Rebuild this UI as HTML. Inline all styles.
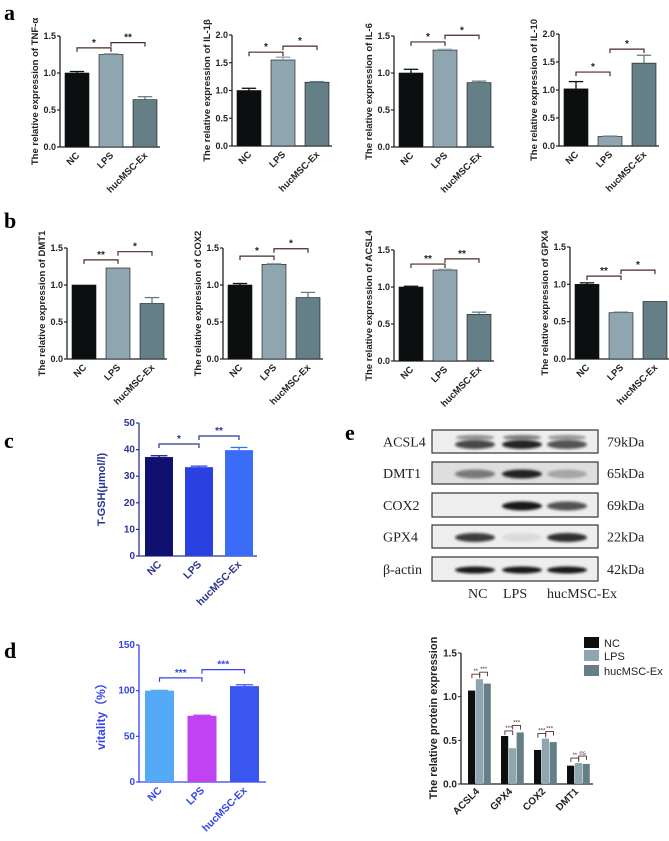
<!DOCTYPE html>
<html><head><meta charset="utf-8">
<style>
html,body{margin:0;padding:0;background:#fff;}
svg{display:block;font-family:"Liberation Sans",Arial,sans-serif;}
.pl{font-family:"Liberation Serif",serif;font-weight:bold;font-size:22px;}
.wb{font-family:"Liberation Serif",serif;font-size:14px;fill:#222;}
</style></head>
<body>
<svg id="fig" width="669" height="841" viewBox="0 0 669 841">
<defs><filter id="blur" x="-20%" y="-50%" width="140%" height="200%"><feGaussianBlur stdDeviation="1.4"/></filter></defs>
<text class="pl" x="4" y="20">a</text>
<text class="pl" x="4" y="228">b</text>
<text class="pl" x="4" y="448">c</text>
<text class="pl" x="4" y="658">d</text>
<text class="pl" x="345" y="440">e</text>
</svg>
<script>
const groups = ["NC","LPS","hucMSC-Ex"];
const tnfVals = [1.0,1.25,0.64], tnfErr = [0.02,0.01,0.04];
const il1Vals = [1.0,1.55,1.15], il1Err = [0.04,0.05,0.01];
const il6Vals = [1.0,1.31,0.87], il6Err = [0.05,0.01,0.02];
const il10Vals = [1.02,0.17,1.48], il10Err = [0.13,0.01,0.14];
const dmtVals = [1.0,1.23,0.75], dmtErr = [0.0,0.0,0.08];
const coxVals = [1.0,1.28,0.83], coxErr = [0.02,0.01,0.07];
const acslVals = [1.0,1.23,0.63], acslErr = [0.01,0.01,0.03];
const gpxVals = [1.0,0.62,0.77], gpxErr = [0.02,0.01,0.0];
const ticks15 = ["0.0","0.5","1.0","1.5"];
const ticks20 = ["0.0","0.5","1.0","1.5","2.0"];
const gshVals = [37.2,33.4,39.8], gshErr = [0.5,0.4,1.0];
const gshTicks = ["0","10","20","30","40","50"];
const vitVals = [100,72.5,105], vitErr = [0.3,0.5,1.5];
const vitTicks = ["0","50","100","150"];
const protCats = ["ACSL4","GPX4","COX2","DMT1"];
const protNC = [1.07,0.55,0.39,0.21];
const protLPS = [1.20,0.41,0.52,0.24];
const protHuc = [1.15,0.59,0.48,0.23];
const protTicks = ["0.0","0.5","1.0","1.5"];
const sigTNF=[["*",1.34],["**",1.41]], sigIL1=[["*",1.69],["*",1.80]], sigIL6=[["*",1.42],["*",1.51]], sigIL10=[["*",1.32],["*",1.73]];
const sigDMT=[["**",1.34],["*",1.45]], sigCOX=[["*",1.39],["*",1.49]], sigACSL=[["**",1.31],["**",1.38]], sigGPX=[["**",1.11],["*",1.19]];
const sigGSH=[["*",42.1],["**",45.1]], sigVit=[["***",114],["***",123]];

const svg=document.getElementById('fig');
const NS='http://www.w3.org/2000/svg';
function mk(tag,attrs,parent){const e=document.createElementNS(NS,tag);for(const k in attrs)e.setAttribute(k,attrs[k]);(parent||svg).appendChild(e);return e;}

function barChart(o){
  const g=mk('g',{});
  
  
  const ymax=parseFloat(o.ticks[o.ticks.length-1]);
  const y=v=>o.y0-(v/ymax)*(o.y0-o.y1);
  const bx=i=>o.ax+o.off+i*o.step;
  const axisCol=o.axisCol||'#222', txtCol=o.txtCol||'#222';
  const ya=mk('line',{x1:o.ax,y1:o.y1,x2:o.ax,y2:o.y0,stroke:axisCol,'stroke-width':1.3},g);
  
  const xa=mk('line',{x1:o.ax,y1:o.y0,x2:o.ax+o.xlen,y2:o.y0,stroke:axisCol,'stroke-width':1.3},g);
  
  o.ticks.forEach(t=>{
    const yy=y(parseFloat(t));
    mk('line',{x1:o.ax-3,y1:yy,x2:o.ax,y2:yy,stroke:axisCol,'stroke-width':1.2},g);
    const tl=mk('text',{x:o.ax-4,y:yy+3,'text-anchor':'end','font-size':o.tfs||9,'font-weight':'bold',fill:txtCol},g);
    tl.textContent=t;
    
  });
  const cy=(o.y0+o.y1)/2+(o.tdy||0);
  const tt=mk('text',{x:o.ax-o.tx,y:cy,'text-anchor':'middle','font-size':o.tsz||9.5,'font-weight':'bold',fill:o.titleCol||txtCol,transform:`rotate(-90 ${o.ax-o.tx} ${cy})`},g);
  tt.textContent=o.title;
  
  o.vals.forEach((v,i)=>{
    const x=bx(i);
    const r=mk('rect',{x:x,y:y(v),width:o.bw,height:o.y0-y(v),fill:o.colors[i],stroke:o.stroke||'none','stroke-width':0.6},g);
    
    const e=o.err[i];
    if(e>0){
      const cx=x+o.bw/2;
      mk('line',{x1:cx,y1:y(v),x2:cx,y2:y(v+e),stroke:o.colors[i],'stroke-width':1.3},g);
      const c=mk('line',{x1:cx-o.bw*0.3,y1:y(v+e),x2:cx+o.bw*0.3,y2:y(v+e),stroke:o.colors[i],'stroke-width':1.3},g);
      
    }
    const lx=x+o.bw/2+3, ly=o.y0+9;
    const cl=mk('text',{x:lx,y:ly,'text-anchor':'end','font-size':o.cfs||9.5,'font-weight':'bold',fill:txtCol,transform:`rotate(-45 ${lx} ${ly})`},g);
    cl.textContent=groups[i];
    
  });
  o.sig.forEach((s,k)=>{
    const xa1=bx(k)+o.bw/2, xa2=bx(k+1)+o.bw/2, yy=y(s[1]);
    const p=mk('path',{d:`M${xa1} ${yy+4}V${yy}H${xa2}V${yy+4}`,fill:'none',stroke:o.sigCol||'#4a2a2a','stroke-width':1.2},g);
    
    const st=mk('text',{x:(xa1+xa2)/2,y:yy-2,'text-anchor':'middle','font-size':10,'font-weight':'bold',fill:o.sigCol||'#222'},g);
    st.textContent=s[0];
    
  });
}
const grey=['#0c0f10','#8fa5b0','#657f87'];
function small(name,ax,y1,y0,vals,err,ticks,title,sig){
  barChart({name,ax,y1,y0,vals,err,ticks,title,sig,off:5,step:34,bw:24,xlen:100,tx:22,colors:grey,stroke:'#111'});
}
small('chart-tnf-alpha',60,36,147,tnfVals,tnfErr,ticks15,'The relative expression of TNF-α',sigTNF);
small('chart-il-1beta',232,35,146,il1Vals,il1Err,ticks20,'The relative expression of IL-1β',sigIL1);
small('chart-il-6',394,36,147,il6Vals,il6Err,ticks15,'The relative expression of IL-6',sigIL6);
small('chart-il-10',559,34,146,il10Vals,il10Err,ticks20,'The relative expression of IL-10',sigIL10);
small('chart-dmt1',67,248,359,dmtVals,dmtErr,ticks15,'The relative expression of DMT1',sigDMT);
small('chart-cox2',223,248,359,coxVals,coxErr,ticks15,'The relative expression of COX2',sigCOX);
small('chart-acsl4',394,250,361,acslVals,acslErr,ticks15,'The relative expression of ACSL4',sigACSL);
small('chart-gpx4',570,247,359,gpxVals,gpxErr,ticks15,'The relative expression of GPX4',sigGPX);

barChart({name:'chart-t-gsh',ax:139,y1:423,y0:556,vals:gshVals,err:gshErr,ticks:gshTicks,title:'T-GSH(μmol/l)',sig:sigGSH,
  off:6,step:40,bw:28,xlen:118,tx:34,tfs:10,tsz:11,cfs:10.5,colors:['#101070','#2b40e0','#3a6cf8'],axisCol:'#2a3590',txtCol:'#2a3590',sigCol:'#2a3590'});
barChart({name:'chart-vitality',ax:139,y1:645,y0:782,vals:vitVals,err:vitErr,ticks:vitTicks,title:'vitality（%）',sig:sigVit,
  off:6,step:42.5,bw:29,xlen:127,tx:34,tfs:10,tsz:12,cfs:10.5,colors:['#55aaf8','#c042f0','#3a56f0'],axisCol:'#3344ee',txtCol:'#3344ee',sigCol:'#3344ee'});

(function(){
  const ax=461,y1=653,y0=784,ymax=1.5;
  const y=v=>y0-(v/ymax)*(y0-y1);
  const g=mk('g',{});
  
  
  mk('line',{x1:ax,y1:y1,x2:ax,y2:y0,stroke:'#222','stroke-width':1.3},g);
  mk('line',{x1:ax,y1:y0,x2:593,y2:y0,stroke:'#222','stroke-width':1.3},g);
  protTicks.forEach(t=>{const yy=y(parseFloat(t));
    mk('line',{x1:ax-3,y1:yy,x2:ax,y2:yy,stroke:'#222'},g);
    const tl=mk('text',{x:ax-4,y:yy+3.5,'text-anchor':'end','font-size':10,'font-weight':'bold',fill:'#222'},g);tl.textContent=t;
    });
  const tt=mk('text',{x:437,y:718,'text-anchor':'middle','font-size':11,'font-weight':'bold',fill:'#222',transform:'rotate(-90 437 718)'},g);
  tt.textContent='The relative protein expression';
  
  const series=[protNC,protLPS,protHuc], cols=grey, bw=7.8;
  protCats.forEach((c,i)=>{
    const gx=468+i*33;
    series.forEach((s,j)=>{
      const r=mk('rect',{x:gx+j*bw,y:y(s[i]),width:bw-0.6,height:y0-y(s[i]),fill:cols[j]},g);
      
    });
    const top1=Math.max(series[0][i],series[1][i]), top2=Math.max(series[1][i],series[2][i]);
    const labs=i==3?['**','ns']:(i==0?['**','***']:['***','***']);
    [[0,1,top1,labs[0]],[1,2,top2,labs[1]]].forEach(b=>{
      const xa1=gx+b[0]*bw+bw/2, xa2=gx+b[1]*bw+bw/2, yy=y(b[2])-5-(b[0]*2);
      const p=mk('path',{d:`M${xa1} ${yy+4}V${yy}H${xa2}V${yy+4}`,fill:'none',stroke:'#5a2a2a','stroke-width':0.9},g);
      
      const st=mk('text',{x:(xa1+xa2)/2,y:yy-1,'text-anchor':'middle','font-size':6,fill:'#333'},g);st.textContent=b[3];
    });
    const lx=gx+12, ly=y0+8;
    const cl=mk('text',{x:lx,y:ly,'text-anchor':'end','font-size':10,'font-weight':'bold',fill:'#222',transform:`rotate(-45 ${lx} ${ly})`},g);
    cl.textContent=c;
    
  });
  groups.forEach((n,j)=>{
    const ly=[643,656,671][j];
    const r=mk('rect',{x:584,y:ly-6,width:15,height:11,fill:cols[j]},g);
    
    const t=mk('text',{x:604,y:ly+4,'font-size':11,fill:'#222'},g);t.textContent=n;
    
  });
})();

(function(){
  const rows=['ACSL4','DMT1','COX2','GPX4','β-actin'], kda=['79kDa','65kDa','69kDa','22kDa','42kDa'];
  const tops=[430,462,493,525,557], hs=[23,22,24,23,24];
  const lanes=[475,522,567];
  const inten=[[0.75,0.9,0.7],[0.5,0.9,0.25],[0,0.95,0.7],[0.8,0.08,0.85],[0.95,0.95,0.95]];
  const g=mk('g',{});
  
  
  rows.forEach((r,i)=>{
    const bg=mk('rect',{x:432,y:tops[i],width:166,height:hs[i],fill:i==1?'#dedede':'#eeeeee',stroke:'#333','stroke-width':1.2},g);
    
    const cy=tops[i]+hs[i]/2+(i==0?3:1);
    lanes.forEach((lx,j)=>{
      const a=inten[i][j]; if(a<=0)return;
      mk('ellipse',{cx:lx,cy:cy,rx:20,ry:i==4?3.5:4.5,fill:'#111','fill-opacity':a,filter:'url(#blur)'},g);
      if(i==0) mk('ellipse',{cx:lx,cy:cy-7,rx:19,ry:2.5,fill:'#111','fill-opacity':a*0.6,filter:'url(#blur)'},g);
    });
    const t=mk('text',{x:383,y:tops[i]+hs[i]/2+5,class:'wb'},g);t.textContent=r;
    
    const k=mk('text',{x:607,y:tops[i]+hs[i]/2+5,class:'wb'},g);k.textContent=kda[i];
    
  });
  [['NC',468],['LPS',503],['hucMSC-Ex',547]].forEach(l=>{
    const t=mk('text',{x:l[1],y:598,class:'wb'},g);t.textContent=l[0];
    
  });
})();
</script>
</body></html>
